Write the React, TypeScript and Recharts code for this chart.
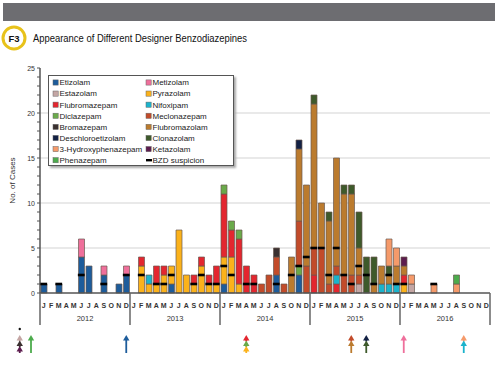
import React from 'react';
import { ComposedChart, Bar, Line, XAxis, YAxis, CartesianGrid } from 'recharts';

const years = ['2012', '2013', '2014', '2015', '2016'];
const monthLetters = ['J', 'F', 'M', 'A', 'M', 'J', 'J', 'A', 'S', 'O', 'N', 'D'];
const yTicks = [0, 1, 2, 3, 4, 5, 6, 7, 8, 9, 10, 11, 12, 13, 14, 15, 16, 17, 18, 19, 20, 21, 22, 23, 24, 25];

// cases per month, Jan 2012 - Dec 2016 (one line per year)
const etizolam = [
  1, 0, 1, 0, 0, 4, 3, 0, 2, 0, 1, 2,
  0, 0, 0, 0, 0, 1, 0, 0, 0, 0, 0, 0,
  1, 0, 0, 0, 0, 0, 0, 2, 0, 0, 2, 0,
  0, 0, 0, 0, 0, 0, 0, 0, 0, 0, 0, 0,
  0, 0, 0, 0, 0, 0, 0, 0, 0, 0, 0, 0,
];
const estazolam = [
  0, 0, 0, 0, 0, 0, 0, 0, 0, 0, 0, 0,
  0, 0, 0, 0, 0, 0, 0, 0, 0, 0, 0, 0,
  0, 0, 0, 0, 0, 0, 0, 0, 0, 0, 0, 0,
  0, 0, 0, 0, 0, 0, 1, 0, 0, 0, 0, 0,
  0, 1, 0, 0, 0, 0, 0, 0, 0, 0, 0, 0,
];
const pyrazolam = [
  0, 0, 0, 0, 0, 0, 0, 0, 0, 0, 0, 0,
  0, 3, 1, 1, 2, 2, 7, 2, 1, 3, 1, 1,
  3, 4, 1, 0, 0, 0, 0, 0, 0, 0, 0, 0,
  0, 0, 0, 0, 0, 0, 0, 0, 0, 0, 0, 0,
  1, 0, 0, 0, 0, 0, 0, 0, 0, 0, 0, 0,
];
const flubromazepam = [
  0, 0, 0, 0, 0, 0, 0, 0, 0, 0, 0, 0,
  0, 1, 0, 2, 1, 0, 0, 0, 1, 1, 1, 2,
  7, 3, 5, 3, 2, 0, 0, 0, 0, 0, 0, 0,
  2, 0, 0, 1, 0, 0, 0, 0, 0, 0, 0, 0,
  1, 0, 0, 0, 0, 0, 0, 0, 0, 0, 0, 0,
];
const nifoxipam = [
  0, 0, 0, 0, 0, 0, 0, 0, 0, 0, 0, 0,
  0, 0, 1, 0, 0, 0, 0, 0, 0, 0, 0, 0,
  0, 0, 0, 0, 0, 0, 0, 0, 0, 0, 0, 0,
  0, 0, 0, 1, 0, 0, 0, 0, 0, 1, 1, 1,
  0, 0, 0, 0, 0, 0, 0, 0, 0, 0, 0, 0,
];
const diclazepam = [
  0, 0, 0, 0, 0, 0, 0, 0, 0, 0, 0, 0,
  0, 0, 0, 0, 0, 0, 0, 0, 0, 0, 0, 0,
  1, 1, 1, 0, 0, 0, 0, 0, 0, 0, 1, 0,
  0, 0, 0, 0, 0, 0, 0, 0, 0, 0, 0, 0,
  0, 0, 0, 0, 0, 0, 0, 0, 0, 0, 0, 0,
];
const meclonazepam = [
  0, 0, 0, 0, 0, 0, 0, 0, 0, 0, 0, 0,
  0, 0, 0, 0, 0, 0, 0, 0, 0, 0, 0, 0,
  0, 0, 0, 0, 0, 1, 2, 2, 1, 0, 5, 3,
  3, 5, 1, 1, 2, 2, 1, 0, 0, 0, 0, 0,
  0, 0, 0, 0, 0, 0, 0, 0, 0, 0, 0, 0,
];
const flubromazolam = [
  0, 0, 0, 0, 0, 0, 0, 0, 0, 0, 0, 0,
  0, 0, 0, 0, 0, 0, 0, 0, 0, 0, 0, 0,
  0, 0, 0, 0, 0, 0, 0, 0, 0, 4, 8, 9,
  16, 5, 7, 12, 9, 9, 3, 0, 1, 2, 1, 2,
  1, 0, 0, 0, 0, 0, 0, 0, 0, 0, 0, 0,
];
const clonazolam = [
  0, 0, 0, 0, 0, 0, 0, 0, 0, 0, 0, 0,
  0, 0, 0, 0, 0, 0, 0, 0, 0, 0, 0, 0,
  0, 0, 0, 0, 0, 0, 0, 0, 0, 0, 0, 0,
  1, 0, 1, 0, 1, 1, 4, 4, 3, 0, 1, 0,
  0, 0, 0, 0, 0, 0, 0, 0, 0, 0, 0, 0,
];
const deschloroetizolam = [
  0, 0, 0, 0, 0, 0, 0, 0, 0, 0, 0, 0,
  0, 0, 0, 0, 0, 0, 0, 0, 0, 0, 0, 0,
  0, 0, 0, 0, 0, 0, 0, 0, 0, 0, 1, 0,
  0, 0, 0, 0, 0, 0, 0, 0, 0, 0, 0, 0,
  0, 0, 0, 0, 0, 0, 0, 0, 0, 0, 0, 0,
];
const bromazepam = [
  0, 0, 0, 0, 0, 0, 0, 0, 0, 0, 0, 0,
  0, 0, 0, 0, 0, 0, 0, 0, 0, 0, 0, 0,
  0, 0, 0, 0, 0, 0, 0, 1, 0, 0, 0, 0,
  0, 0, 0, 0, 0, 0, 0, 0, 0, 0, 0, 0,
  0, 0, 0, 0, 0, 0, 0, 0, 0, 0, 0, 0,
];
const hydroxyphenazepam = [
  0, 0, 0, 0, 0, 0, 0, 0, 0, 0, 0, 0,
  0, 0, 0, 0, 0, 0, 0, 0, 0, 0, 0, 0,
  0, 0, 0, 0, 0, 0, 0, 0, 0, 0, 0, 0,
  0, 0, 0, 0, 0, 0, 0, 0, 0, 0, 3, 2,
  0, 1, 0, 0, 1, 0, 0, 1, 0, 0, 0, 0,
];
const phenazepam = [
  0, 0, 0, 0, 0, 0, 0, 0, 0, 0, 0, 0,
  0, 0, 0, 0, 0, 0, 0, 0, 0, 0, 0, 0,
  0, 0, 0, 0, 0, 0, 0, 0, 0, 0, 0, 0,
  0, 0, 0, 0, 0, 0, 0, 0, 0, 0, 0, 0,
  0, 0, 0, 0, 0, 0, 0, 1, 0, 0, 0, 0,
];
const ketazolam = [
  0, 0, 0, 0, 0, 0, 0, 0, 0, 0, 0, 0,
  0, 0, 0, 0, 0, 0, 0, 0, 0, 0, 0, 0,
  0, 0, 0, 0, 0, 0, 0, 0, 0, 0, 0, 0,
  0, 0, 0, 0, 0, 0, 0, 0, 0, 0, 0, 0,
  1, 0, 0, 0, 0, 0, 0, 0, 0, 0, 0, 0,
];
const metizolam = [
  0, 0, 0, 0, 0, 2, 0, 0, 1, 0, 0, 1,
  0, 0, 0, 0, 0, 0, 0, 0, 0, 0, 0, 0,
  0, 0, 0, 0, 0, 0, 0, 0, 0, 0, 0, 0,
  0, 0, 0, 0, 0, 0, 0, 0, 0, 0, 0, 0,
  0, 0, 0, 0, 0, 0, 0, 0, 0, 0, 0, 0,
];
// cases with BZD suspicion (drawn as black dash)
const bzdSuspicion = [
  1, null, 1, null, null, 2, null, null, 1, null, null, 2,
  null, 2, null, 1, 1, 2, null, null, 1, 2, 1, 1,
  3, 2, null, 1, 1, null, null, 1, null, 2, 3, 4,
  5, 5, 2, 5, 2, 1, 3, 2, 1, null, 2, 1,
  1, null, null, null, 1, null, null, null, null, null, null, null,
];

// stacking order, bottom to top
const series = [
  { key: 'etizolam', name: 'Etizolam', color: '#1d5c9b', values: etizolam },
  { key: 'estazolam', name: 'Estazolam', color: '#c4a6a4', values: estazolam },
  { key: 'pyrazolam', name: 'Pyrazolam', color: '#fbb21b', values: pyrazolam },
  { key: 'flubromazepam', name: 'Flubromazepam', color: '#e3262f', values: flubromazepam },
  { key: 'nifoxipam', name: 'Nifoxipam', color: '#1bb3cc', values: nifoxipam },
  { key: 'diclazepam', name: 'Diclazepam', color: '#6aaa4a', values: diclazepam },
  { key: 'meclonazepam', name: 'Meclonazepam', color: '#c24b2a', values: meclonazepam },
  { key: 'flubromazolam', name: 'Flubromazolam', color: '#bb7b2e', values: flubromazolam },
  { key: 'clonazolam', name: 'Clonazolam', color: '#3e5a2b', values: clonazolam },
  { key: 'deschloroetizolam', name: 'Deschloroetizolam', color: '#132144', values: deschloroetizolam },
  { key: 'bromazepam', name: 'Bromazepam', color: '#3a3030', values: bromazepam },
  { key: 'hydroxyphenazepam', name: '3-Hydroxyphenazepam', color: '#f59a6a', values: hydroxyphenazepam },
  { key: 'phenazepam', name: 'Phenazepam', color: '#4cab4c', values: phenazepam },
  { key: 'ketazolam', name: 'Ketazolam', color: '#5c1c4e', values: ketazolam },
  { key: 'metizolam', name: 'Metizolam', color: '#ef6f9b', values: metizolam },
];

const legendLeft = ['etizolam', 'estazolam', 'flubromazepam', 'diclazepam', 'bromazepam', 'deschloroetizolam', 'hydroxyphenazepam', 'phenazepam'];
const legendRight = ['metizolam', 'pyrazolam', 'nifoxipam', 'meclonazepam', 'flubromazolam', 'clonazolam', 'ketazolam', 'bzd'];

// first-appearance arrows below the axis: month (0 = Jan 2012) and substances, top to bottom
const arrowMonths = [-3.2, -1.7, 11, 27, 41, 43, 48, 56];
const arrowSubstances = [
  ['estazolam', 'bromazepam', 'ketazolam'],
  ['phenazepam'],
  ['etizolam'],
  ['flubromazepam', 'diclazepam', 'pyrazolam'],
  ['meclonazepam', 'flubromazolam'],
  ['deschloroetizolam', 'clonazolam'],
  ['metizolam'],
  ['hydroxyphenazepam', 'nifoxipam'],
];

const colorOf = (key: string) => (series.find((s) => s.key === key) || { color: '#000' }).color;
const nameOf = (key: string) => (key === 'bzd' ? 'BZD suspicion' : (series.find((s) => s.key === key) || { name: key }).name);

const table = etizolam.map((_, i) => {
  const row: any = { idx: i, bzd: bzdSuspicion[i] };
  series.forEach((s) => {
    row[s.key] = s.values[i] || null;
  });
  return row;
});

const FONT = '"Liberation Sans Narrow", "Liberation Sans", Arial, sans-serif';

const BzdMark = (props: any) => {
  const { cx, cy, value } = props;
  if (value == null || cx == null || cy == null) return <g />;
  return <rect x={cx - 3.4} y={cy - 1.3} width={6.8} height={2.6} fill="#000" />;
};

const renderArrows = (x0: number, y0: number, bw: number) =>
  arrowMonths.map((pos, k) => {
    const ax = x0 + pos * bw;
    const cols = arrowSubstances[k].map(colorOf);
    const top = y0 + 42;
    const step = 5.5;
    const bottom = y0 + 60;
    return (
      <g key={k}>
        {k === 0 && <circle cx={ax} cy={top - 6} r={1.2} fill="#111" />}
        {cols.map((c, j) => (
          <line key={'s' + j} x1={ax} x2={ax} y1={top + j * step + 3}
            y2={j === cols.length - 1 ? bottom : top + (j + 1) * step + 1} stroke={c} strokeWidth={1.8} />
        ))}
        {cols.map((c, j) => {
          const hy = top + j * step;
          return <polygon key={'h' + j} points={`${ax},${hy} ${ax - 3.2},${hy + 5.5} ${ax + 3.2},${hy + 5.5}`} fill={c} />;
        })}
      </g>
    );
  });

const MonthTick = (props: any) => {
  const { x, y, payload } = props;
  const i = Number(payload.value);
  const bw = payload.offset ? payload.offset * 2 : 7.5;
  const half = bw / 2;
  const m = i % 12;
  return (
    <g>
      <text x={x} y={y + 15} textAnchor="middle" fontSize={7} fontWeight="bold" fill="#333" fontFamily={FONT}>
        {monthLetters[m]}
      </text>
      {m === 0 && <line x1={x - half} x2={x - half} y1={y} y2={y + 32} stroke="#666" strokeWidth={1.5} />}
      {i === table.length - 1 && <line x1={x + half} x2={x + half} y1={y} y2={y + 32} stroke="#666" strokeWidth={1.5} />}
      {m === 5 && (
        <text x={x + half} y={y + 28} textAnchor="middle" fontSize={7.5} fill="#333" fontFamily={FONT}>
          {years[Math.floor(i / 12)]}
        </text>
      )}
      {i === 0 && renderArrows(x, y, bw)}
    </g>
  );
};

const CountTick = (props: any) => {
  const { x, y, payload } = props;
  const v = Number(payload.value);
  return (
    <g>
      <line x1={x - 3} x2={x} y1={y} y2={y} stroke="#555" strokeWidth={1} />
      {v % 5 === 0 && (
        <text x={x - 5} y={y + 2.5} textAnchor="end" fontSize={7} fill="#333" fontFamily={FONT}>
          {v}
        </text>
      )}
    </g>
  );
};

const LegendBox = () => {
  const row = (key: string, r: number, col: number) => {
    const sx = col === 0 ? 4 : 97;
    const cy = 6.5 + r * 11.1;
    return (
      <g key={key}>
        {key === 'bzd' ? (
          <rect x={sx} y={cy - 1.2} width={6} height={2.4} fill="#000" />
        ) : (
          <rect x={sx} y={cy - 2.6} width={5.2} height={5.2} fill={colorOf(key)} stroke="#666" strokeWidth={0.5} />
        )}
        <text x={sx + 6.5} y={cy + 2.8} fontSize={8} fill="#222" fontFamily={FONT}>
          {nameOf(key)}
        </text>
      </g>
    );
  };
  return (
    <div style={{ position: 'absolute', left: 48, top: 75, width: 184, height: 89, border: '1px solid #555', background: '#fff', boxShadow: '2px 2px 2px #aaa' }}>
      <svg width={184} height={89} style={{ display: 'block' }}>
        {legendLeft.map((k, r) => row(k, r, 0))}
        {legendRight.map((k, r) => row(k, r, 1))}
      </svg>
    </div>
  );
};

export default function App() {
  return (
    <div style={{ position: 'absolute', left: 0, top: 0, width: 500, height: 366, background: '#fff', fontFamily: FONT }}>
      <svg width={500} height={56} style={{ position: 'absolute', left: 0, top: 0 }}>
        <rect x={3} y={3} width={492} height={18} fill="#6d6d71" />
        <circle cx={14} cy={38} r={11} fill="#fff" stroke="#e8c21a" strokeWidth={3} />
        <text x={14} y={41.5} textAnchor="middle" fontSize={9.5} fontWeight="bold" fill="#111" fontFamily="'Liberation Sans', Arial, sans-serif">
          F3
        </text>
        <text x={33} y={41.5} fontSize={11} fill="#111" fontFamily={FONT} textLength={214} lengthAdjust="spacingAndGlyphs">
          Appearance of Different Designer Benzodiazepines
        </text>
      </svg>
      <div style={{ position: 'absolute', left: 0, top: 0 }}>
        <ComposedChart
          width={500}
          height={366}
          data={table}
          margin={{ top: 68, right: 10, bottom: 0, left: 0 }}
          barCategoryGap={1}
        >
          <CartesianGrid vertical={false} horizontalValues={[5, 10, 15, 20]} stroke="#e9e9e9" strokeWidth={2} />
          <XAxis
            dataKey="idx"
            type="category"
            interval={0}
            height={73}
            tickSize={0}
            tickMargin={0}
            tickLine={false}
            axisLine={{ stroke: '#555', strokeWidth: 1.5 }}
            tick={<MonthTick />}
          />
          <YAxis
            domain={[0, 25]}
            ticks={yTicks}
            interval={0}
            width={40}
            tickSize={0}
            tickMargin={0}
            tickLine={false}
            axisLine={{ stroke: '#555', strokeWidth: 1.5 }}
            tick={<CountTick />}
            label={{ value: 'No. of Cases', angle: -90, position: 'insideLeft', offset: 12, fontSize: 8, fill: '#333', style: { textAnchor: 'middle', fontFamily: FONT } }}
          />
          <YAxis yAxisId="r" orientation="right" domain={[0, 25]} width={0} tick={false} tickLine={false} axisLine={{ stroke: '#8a8a8a', strokeWidth: 1.5 }} />
          {series.map((s) => (
            <Bar key={s.key} dataKey={s.key} name={s.name} stackId="a" fill={s.color} stroke="#6a5a52" strokeWidth={0.7} isAnimationActive={false} />
          ))}
          <Line dataKey="bzd" name="BZD suspicion" stroke="none" dot={<BzdMark />} activeDot={false} legendType="none" isAnimationActive={false} />
        </ComposedChart>
      </div>
      <LegendBox />
    </div>
  );
}
